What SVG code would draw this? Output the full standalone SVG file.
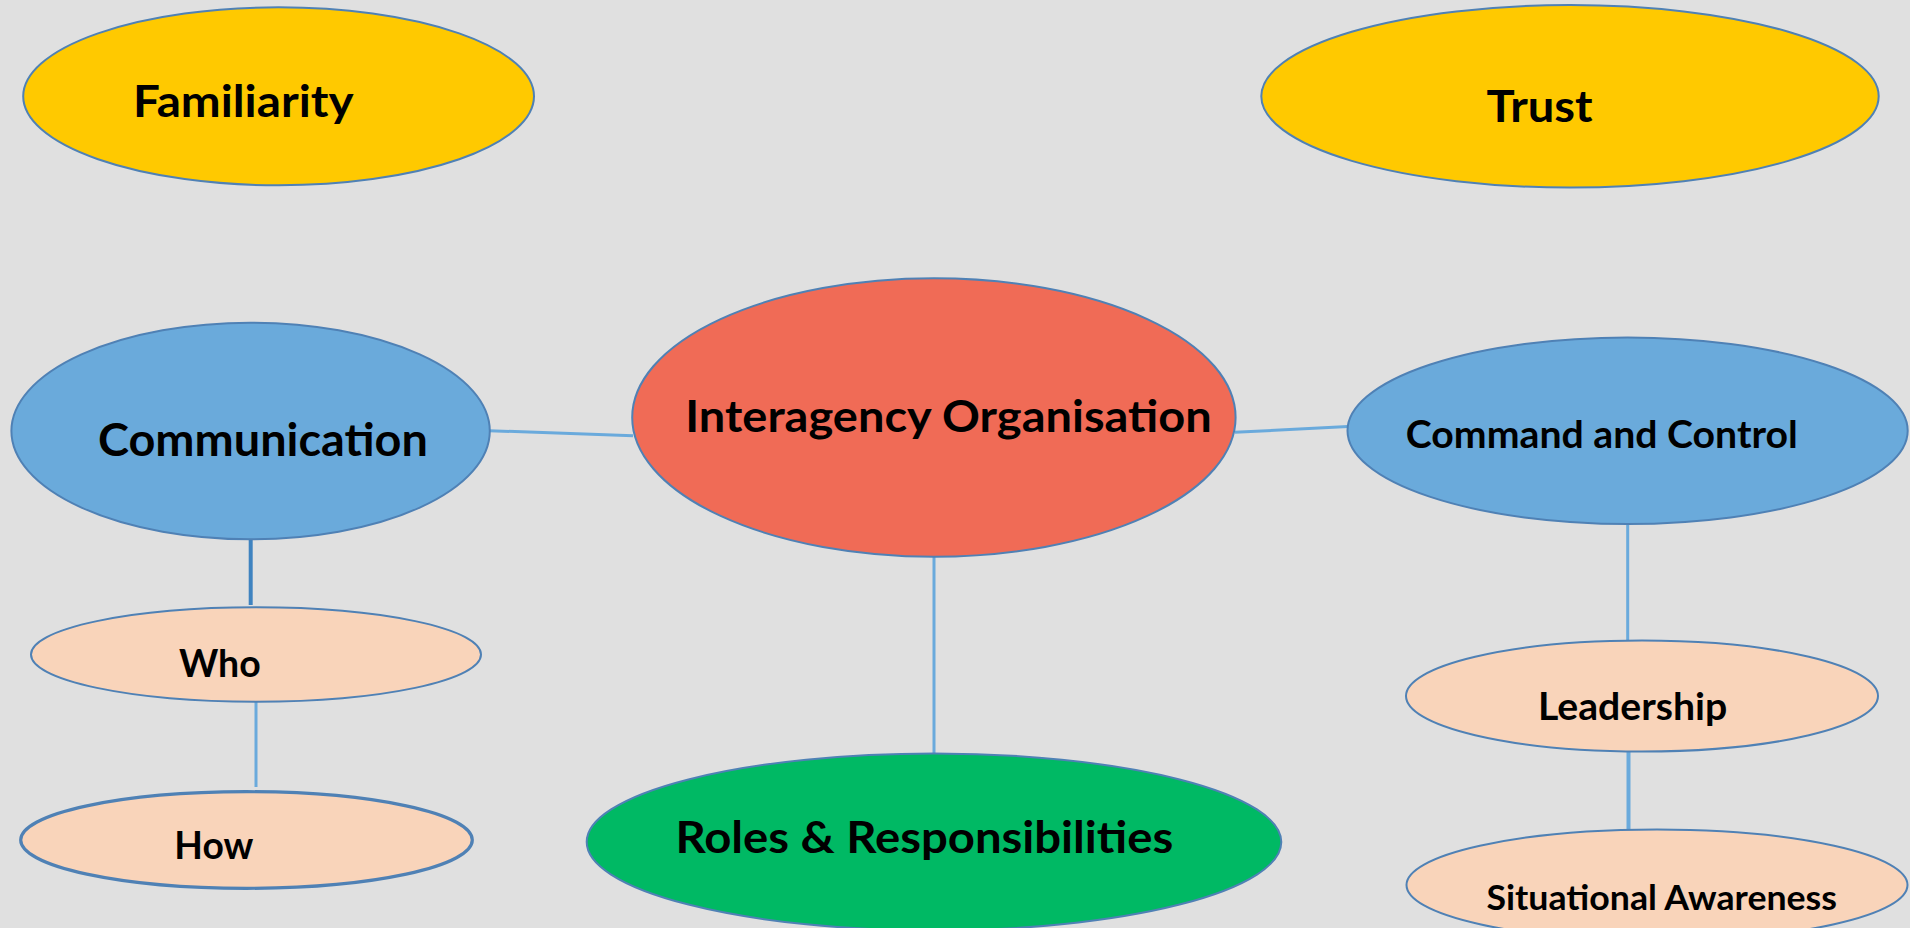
<svg xmlns="http://www.w3.org/2000/svg" width="1910" height="928" viewBox="0 0 1910 928">
<style>
.n{stroke:#4f81b5;stroke-width:2}
.t{font-family:Lato,"Liberation Sans",Arial,sans-serif;font-weight:bold;fill:#000}
.c{stroke:#6aaadc;stroke-width:3;fill:none}
.yel{fill:#ffc900}
.blu{fill:#6aaadb}
.pch{fill:#f9d4ba}
</style>
<rect x="0" y="0" width="1910" height="928" fill="#e0e0e0"/>
<g id="connectors">
<line class="c" x1="489" y1="430.7" x2="633" y2="435.7"/>
<line class="c" x1="1235" y1="432.3" x2="1348" y2="426.5"/>
<line class="c" x1="934" y1="556" x2="934" y2="754"/>
<line class="c" x1="250.7" y1="539" x2="250.7" y2="605" style="stroke:#3f83c0;stroke-width:4"/>
<line class="c" x1="256" y1="701" x2="256" y2="787"/>
<line class="c" x1="1627.7" y1="523" x2="1627.7" y2="641"/>
<line class="c" x1="1628.5" y1="752" x2="1628.5" y2="829" style="stroke-width:4"/>
</g>
<g id="familiarity">
<ellipse class="n yel" cx="278.6" cy="96.3" rx="255.4" ry="89"/>
<text class="t" x="132.9" y="117" font-size="44.7" textLength="220.7" lengthAdjust="spacingAndGlyphs">Familiarity</text>
</g>
<g id="trust">
<ellipse class="n yel" cx="1570" cy="96.3" rx="308.7" ry="91.3"/>
<text class="t" x="1486.6" y="121.7" font-size="44.2" textLength="106" lengthAdjust="spacingAndGlyphs">Trust</text>
</g>
<g id="communication">
<ellipse class="n blu" cx="250.6" cy="431" rx="239.2" ry="108.3"/>
<text class="t" x="98" y="456" font-size="45.6" textLength="329.8" lengthAdjust="spacingAndGlyphs">Communication</text>
</g>
<g id="interagency">
<ellipse class="n" fill="#f06b56" cx="933.9" cy="417.5" rx="301.7" ry="139.2"/>
<text class="t" x="685.3" y="431.7" font-size="44.2" textLength="526.5" lengthAdjust="spacingAndGlyphs">Interagency Organisation</text>
</g>
<g id="command">
<ellipse class="n blu" cx="1627.6" cy="430.7" rx="280.1" ry="93.3"/>
<text class="t" x="1405.8" y="447.7" font-size="38.7" textLength="392" lengthAdjust="spacingAndGlyphs">Command and Control</text>
</g>
<g id="who">
<ellipse class="n pch" cx="256" cy="654.5" rx="225" ry="47.2"/>
<text class="t" x="179" y="677.3" font-size="38.1" textLength="81.7" lengthAdjust="spacingAndGlyphs">Who</text>
</g>
<g id="how">
<ellipse class="n pch" cx="246.5" cy="840" rx="225.8" ry="48.3" style="stroke-width:3.2"/>
<text class="t" x="174.3" y="859.3" font-size="37.7" textLength="79" lengthAdjust="spacingAndGlyphs">How</text>
</g>
<g id="roles">
<ellipse class="n" fill="#00b964" cx="934" cy="842" rx="347.3" ry="88.5"/>
<text class="t" x="675.4" y="853.3" font-size="44.2" textLength="497.8" lengthAdjust="spacingAndGlyphs">Roles &amp; Responsibilities</text>
</g>
<g id="leadership">
<ellipse class="n pch" cx="1642" cy="696" rx="236" ry="55.5"/>
<text class="t" x="1537.9" y="719.7" font-size="38.7" textLength="189.3" lengthAdjust="spacingAndGlyphs">Leadership</text>
</g>
<g id="situational">
<ellipse class="n pch" cx="1657" cy="885" rx="250.5" ry="55.5"/>
<text class="t" x="1486.5" y="909.7" font-size="35" textLength="350.5" lengthAdjust="spacingAndGlyphs">Situational Awareness</text>
</g>
</svg>
